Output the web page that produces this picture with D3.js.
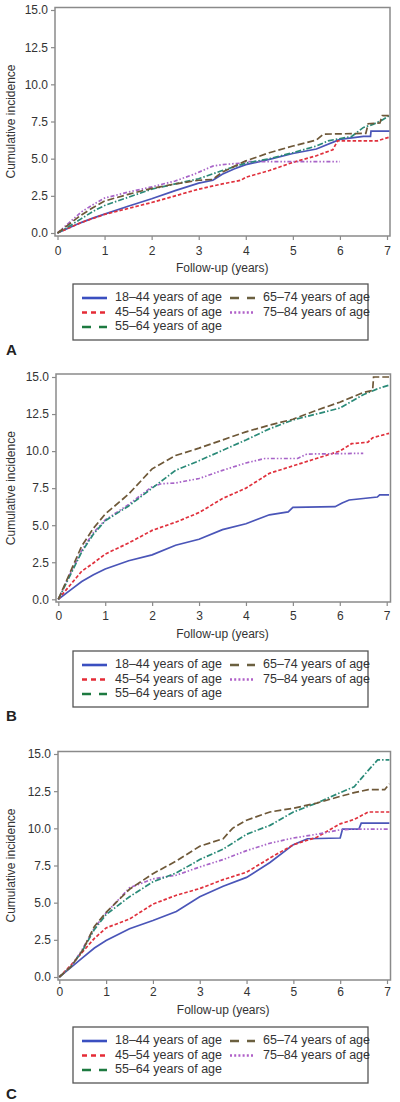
<!DOCTYPE html>
<html><head><meta charset="utf-8">
<script src="https://cdn.jsdelivr.net/npm/d3@7"></script>
<style>body{margin:0;background:#fff}svg{display:block}text{font-family:"Liberation Sans",Arial,sans-serif}</style>
</head><body><svg id="c" width="400" height="1102"></svg>
<script>
const seriesLabels = ["18–44 years of age","45–54 years of age","55–64 years of age","65–74 years of age","75–84 years of age"];
const yTicks = [0,2.5,5,7.5,10,12.5,15];
const xTicks = [0,1,2,3,4,5,6,7];
const panelLetters = ["A","B","C"];

// Panel A: [years, cumulative incidence]
const A_18_44 = [[0,0],[0.25,0.35],[0.5,0.7],[0.75,1.0],[1,1.27],[1.5,1.8],[2,2.3],[2.5,2.85],[3,3.35],[3.3,3.55],[3.35,3.65],[3.5,3.95],[3.75,4.3],[4,4.6],[4.5,4.95],[5,5.35],[5.5,5.65],[6,6.3],[6.5,6.5],[6.65,6.5],[6.66,6.85],[7.05,6.85]];
const A_45_54 = [[0,0],[0.5,0.7],[1,1.25],[1.5,1.65],[2,2.05],[2.5,2.5],[3,2.95],[3.5,3.3],[3.9,3.55],[4,3.75],[4.5,4.2],[5,4.75],[5.5,5.2],[5.85,5.6],[5.95,6.2],[6.8,6.2],[7.05,6.45]];
const A_55_64 = [[0,0],[0.25,0.45],[0.5,0.95],[0.75,1.45],[1,1.85],[1.5,2.4],[2,2.95],[2.5,3.3],[3,3.65],[3.5,4.2],[4,4.7],[4.5,5.0],[5,5.4],[5.5,5.85],[5.75,6.2],[6.25,6.5],[6.5,7.1],[6.7,7.3],[6.9,7.6],[7.05,7.9]];
const A_65_74 = [[0,0],[0.25,0.6],[0.5,1.2],[0.75,1.7],[1,2.15],[1.5,2.6],[2,3.0],[2.5,3.3],[3,3.55],[3.3,3.6],[3.5,4.1],[4,4.85],[4.5,5.4],[5,5.85],[5.5,6.25],[5.65,6.65],[6.55,6.7],[6.6,7.35],[6.85,7.4],[6.9,7.9],[7.05,7.9]];
const A_75_84 = [[0,0],[0.25,0.7],[0.5,1.4],[0.75,1.9],[1,2.35],[1.5,2.75],[2,3.1],[2.5,3.5],[2.9,3.95],[3.3,4.5],[3.5,4.6],[3.9,4.7],[4,4.8],[6,4.8]];

// Panel B
const B_18_44 = [[0,0],[0.25,0.6],[0.5,1.2],[0.75,1.65],[1,2.05],[1.5,2.6],[2,3.0],[2.5,3.65],[3,4.05],[3.5,4.7],[4,5.1],[4.5,5.7],[4.9,5.9],[5,6.2],[5.9,6.25],[6.05,6.5],[6.2,6.7],[6.8,6.9],[6.85,7.05],[7.05,7.05]];
const B_45_54 = [[0,0],[0.25,0.95],[0.5,1.9],[0.75,2.45],[1,3.05],[1.5,3.8],[2,4.65],[2.5,5.2],[3,5.85],[3.5,6.8],[4,7.5],[4.5,8.5],[5,9.0],[5.5,9.5],[6,10.0],[6.25,10.5],[6.6,10.6],[6.7,10.9],[7.05,11.2]];
const B_55_64 = [[0,0],[0.25,1.6],[0.5,3.2],[0.75,4.4],[1,5.3],[1.5,6.3],[2,7.5],[2.5,8.7],[3,9.35],[3.5,10.05],[4,10.75],[4.5,11.5],[5,12.1],[5.5,12.5],[6,12.9],[6.5,13.8],[6.8,14.2],[7.05,14.45]];
const B_65_74 = [[0,0],[0.25,1.8],[0.5,3.6],[0.75,4.8],[1,5.75],[1.5,7.1],[2,8.8],[2.5,9.7],[3,10.2],[3.5,10.75],[4,11.3],[4.5,11.75],[5,12.15],[5.5,12.75],[6,13.3],[6.5,13.95],[6.7,14.1],[6.72,15.0],[7.05,15.0]];
const B_75_84 = [[0,0],[0.25,1.7],[0.5,3.3],[0.75,4.5],[1,5.35],[1.5,6.4],[2,7.6],[2.2,7.8],[2.5,7.85],[3,8.15],[3.5,8.7],[4,9.2],[4.4,9.5],[5.1,9.5],[5.3,9.8],[6.5,9.85]];

// Panel C
const C_18_44 = [[0,0],[0.25,0.65],[0.5,1.3],[0.75,1.95],[1,2.45],[1.5,3.25],[2,3.8],[2.5,4.4],[3,5.4],[3.5,6.1],[4,6.7],[4.5,7.7],[5,8.9],[5.3,9.3],[6,9.35],[6.05,9.95],[6.4,9.95],[6.45,10.35],[7.05,10.35]];
const C_45_54 = [[0,0],[0.25,0.8],[0.5,1.7],[0.75,2.6],[1,3.3],[1.5,3.9],[2,4.9],[2.5,5.5],[3,5.95],[3.5,6.55],[4,7.05],[4.5,8.0],[5,8.9],[5.5,9.4],[6,10.3],[6.3,10.6],[6.6,11.1],[7.05,11.1]];
const C_55_64 = [[0,0],[0.25,0.7],[0.5,1.8],[0.75,3.2],[1,4.2],[1.5,5.4],[2,6.4],[2.5,7.0],[3,7.9],[3.5,8.6],[4,9.6],[4.5,10.2],[5,11.1],[5.5,11.7],[6,12.4],[6.3,12.8],[6.6,13.9],[6.8,14.6],[7.05,14.6]];
const C_65_74 = [[0,0],[0.25,0.7],[0.5,1.8],[0.75,3.4],[1,4.35],[1.5,5.9],[2,6.95],[2.5,7.8],[3,8.8],[3.5,9.3],[3.7,10.0],[4,10.55],[4.5,11.1],[5,11.35],[5.5,11.7],[6,12.15],[6.3,12.4],[6.6,12.6],[6.95,12.6],[7.05,13.0]];
const C_75_84 = [[0,0],[0.25,0.7],[0.5,1.9],[0.75,3.3],[1,4.3],[1.5,6.0],[2,6.6],[2.5,6.85],[3,7.4],[3.5,7.9],[4,8.5],[4.5,9.0],[5,9.35],[5.5,9.6],[6,9.9],[6.3,9.95],[7.05,9.95]];

const panelData = [
  [A_18_44,A_45_54,A_55_64,A_65_74,A_75_84],
  [B_18_44,B_45_54,B_55_64,B_65_74,B_75_84],
  [C_18_44,C_45_54,C_55_64,C_65_74,C_75_84]
];

const lineColors = ["#4a55b8","#e0303c","#2a8a78","#6e5838","#a864c8"];
const lineDash = [null,"3.5,2","6,2,1.5,2","7,3","4,2,1.5,2,1.5,2"];
const legColors = ["#3a4fc0","#e52b36","#1d7a40","#6b6040","#b060c8"];
const legDash = [null,"5,4","9,8","9,8","2,2.2"];

const geom = [
  {left:55, top:7.5, right:390, bottom:236, y15:10, y0:233, x0:57.5, x7:387, tickY:252, titleY:269, legTop:284, letterY:355},
  {left:56, top:374, right:390.5, bottom:602, y15:377, y0:599.3, x0:58.3, x7:386.7, tickY:617, titleY:635, legTop:651, letterY:721},
  {left:58, top:751.5, right:390.5, bottom:980, y15:754, y0:977, x0:59.3, x7:387, tickY:993, titleY:1011, legTop:1027, letterY:1099}
];

const svg = d3.select("#c");
const frameColor = "#8a8a8a";
const fs = "12px";

geom.forEach((g, pi) => {
  const x = d3.scaleLinear().domain([0,7]).range([g.x0, g.x7]);
  const y = d3.scaleLinear().domain([0,15]).range([g.y0, g.y15]);
  const gp = svg.append("g");

  // Y axis
  const ya = gp.append("g").attr("transform",`translate(${g.left},0)`)
    .call(d3.axisLeft(y).tickValues(yTicks).tickFormat(d3.format(".1f")).tickSize(4).tickPadding(3));
  ya.select(".domain").remove();
  ya.selectAll(".tick line").attr("stroke",frameColor).attr("stroke-width",1.2);
  ya.selectAll(".tick text").attr("font-size",fs).attr("fill","#333").style("font-family","'Liberation Sans',Arial,sans-serif");

  // X axis
  const xa = gp.append("g").attr("transform",`translate(0,${g.bottom})`)
    .call(d3.axisBottom(x).tickValues(xTicks).tickFormat(d3.format("d")).tickSize(4).tickPadding(3));
  xa.select(".domain").remove();
  xa.selectAll(".tick line").attr("stroke",frameColor).attr("stroke-width",1.2);
  xa.selectAll(".tick text").attr("font-size",fs).attr("fill","#333").attr("y",null).attr("dy",null)
    .attr("dominant-baseline","middle")
    .attr("transform",`translate(0,${g.tickY - g.bottom})`).style("font-family","'Liberation Sans',Arial,sans-serif");

  // Frame
  gp.append("rect").attr("x",g.left).attr("y",g.top).attr("width",g.right-g.left).attr("height",g.bottom-g.top)
    .attr("fill","none").attr("stroke",frameColor).attr("stroke-width",1.5);

  // Lines
  const line = d3.line().x(d=>x(d[0])).y(d=>y(d[1])).curve(d3.curveLinear);
  const order = [0,1,4,2,3];
  order.forEach(si => {
    gp.append("path").datum(panelData[pi][si]).attr("d",line)
      .attr("fill","none").attr("stroke",lineColors[si]).attr("stroke-width",1.7)
      .attr("stroke-dasharray",lineDash[si]).attr("stroke-linejoin","miter");
  });

  // Axis titles
  gp.append("text").attr("x",(g.x0+g.x7)/2).attr("y",g.titleY).attr("text-anchor","middle")
    .attr("dominant-baseline","middle").attr("font-size",fs).attr("fill","#333").text("Follow-up (years)");
  gp.append("text").attr("transform",`translate(12,${(g.y0+g.y15)/2}) rotate(-90)`).attr("text-anchor","middle")
    .attr("dominant-baseline","middle").attr("font-size",fs).attr("fill","#333").text("Cumulative incidence");

  // Legend
  const lg = gp.append("g");
  lg.append("rect").attr("x",73).attr("y",g.legTop).attr("width",295).attr("height",56)
    .attr("fill","#fff").attr("stroke","#555").attr("stroke-width",1.3);
  const pos = [[0,0],[0,1],[0,2],[1,0],[1,1]];
  seriesLabels.forEach((lab,i)=>{
    const col = pos[i][0], row = pos[i][1];
    const sx = col==0 ? 82 : 230;
    const ty = g.legTop + 14 + row*14.5;
    lg.append("line").attr("x1",sx).attr("x2",sx+25).attr("y1",ty).attr("y2",ty)
      .attr("stroke",legColors[i]).attr("stroke-width",2.6).attr("stroke-dasharray",legDash[i]);
    lg.append("text").attr("x",sx+33).attr("y",ty).attr("dominant-baseline","middle")
      .attr("font-size","12.5px").attr("fill","#333").text(lab);
  });

  gp.append("text").attr("x",6).attr("y",g.letterY).attr("font-size","15px").attr("font-weight","bold")
    .attr("fill","#222").text(panelLetters[pi]);
});
</script></body></html>
